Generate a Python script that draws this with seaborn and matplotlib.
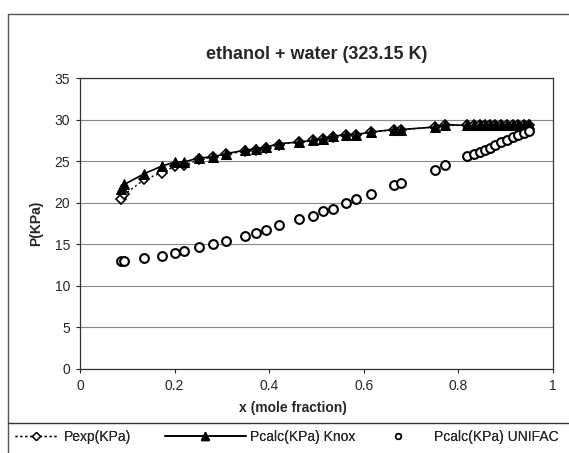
import numpy as np
import pandas as pd
import matplotlib
matplotlib.use("Agg")
import matplotlib.pyplot as plt
from matplotlib.lines import Line2D
import seaborn as sns

# mole fraction of ethanol
x_frac = [0.086, 0.094, 0.136, 0.173, 0.201, 0.220, 0.252, 0.281, 0.308, 0.348,
          0.372, 0.394, 0.420, 0.463, 0.492, 0.513, 0.535, 0.563, 0.584, 0.616,
          0.663, 0.679, 0.750, 0.771, 0.818, 0.832, 0.846, 0.856, 0.867, 0.877,
          0.891, 0.903, 0.916, 0.927, 0.939, 0.950]

p_exp = [20.4, 21.0, 22.8, 23.6, 24.4, 24.5, 25.2, 25.5, 25.8, 26.2,
         26.4, 26.6, 27.0, 27.3, 27.5, 27.7, 27.9, 28.1, 28.2, 28.5,
         28.8, 28.8, 29.1, 29.3, 29.3, 29.3, 29.3, 29.4, 29.4, 29.4,
         29.4, 29.4, 29.4, 29.4, 29.4, 29.4]

p_knox = [21.7, 22.2, 23.5, 24.4, 24.9, 24.9, 25.4, 25.5, 25.9, 26.3,
          26.5, 26.7, 27.1, 27.3, 27.5, 27.7, 28.0, 28.2, 28.2, 28.5,
          28.8, 28.8, 29.1, 29.4, 29.3, 29.3, 29.3, 29.4, 29.4, 29.4,
          29.4, 29.4, 29.4, 29.4, 29.4, 29.5]

p_unifac = [13.0, 13.0, 13.3, 13.6, 13.9, 14.2, 14.7, 15.0, 15.4, 16.0,
            16.4, 16.7, 17.3, 18.0, 18.4, 19.0, 19.3, 20.0, 20.4, 21.0,
            22.1, 22.4, 23.9, 24.5, 25.6, 25.9, 26.1, 26.3, 26.6, 26.9,
            27.3, 27.5, 27.9, 28.1, 28.4, 28.6]

df = pd.DataFrame({"x": x_frac, "exp": p_exp, "knox": p_knox, "unifac": p_unifac})

sns.set_style("white")
plt.rcParams['font.family'] = ['Liberation Sans', 'DejaVu Sans']

W, H = 569, 453
fig = plt.figure(figsize=(W / 100, H / 100), dpi=100)
ax = fig.add_axes([80 / W, 1 - 369 / H, 473 / W, 291 / H])

dotted = (0, (1.5, 2))

# 实验值（虚线+菱形）
sns.lineplot(data=df, x="x", y="exp", ax=ax, sort=False, color="black",
             linestyle=dotted, linewidth=1, marker="D", markersize=5,
             markerfacecolor="white", markeredgecolor="black", markeredgewidth=1.2)
# Knox 计算值
sns.lineplot(data=df, x="x", y="knox", ax=ax, sort=False, color="black",
             linewidth=1.2, marker="^", markersize=7, markerfacecolor="black",
             markeredgecolor="black")
# UNIFAC 计算值
sns.scatterplot(data=df, x="x", y="unifac", ax=ax, marker="o", s=40,
                facecolor="white", edgecolor="black", linewidth=1.5, zorder=3)

ax.set_xlim(0, 1)
ax.set_ylim(0, 35)
ax.set_xticks([0, 0.2, 0.4, 0.6, 0.8, 1])
ax.set_xticklabels(["0", "0.2", "0.4", "0.6", "0.8", "1"])
ax.set_yticks(range(0, 36, 5))
ax.yaxis.grid(True, color="#888888", linewidth=0.8)
ax.tick_params(axis="both", direction="out", length=3, width=0.8,
               labelsize=10, bottom=True, left=True, pad=4)
for s in ax.spines.values():
    s.set_color("#333333")
    s.set_linewidth(0.9)

ax.set_xlabel("x (mole fraction)", fontsize=10, fontweight="bold", labelpad=3)
ax.xaxis.set_label_coords(0.45, -0.11)
ax.set_ylabel("P(KPa)", fontsize=10, fontweight="bold", labelpad=8)
ax.set_title("ethanol + water (323.15 K)", fontsize=13, fontweight="bold", pad=14)

# 图表外框与图例分隔线
fig.add_artist(Line2D([8 / W, 8 / W], [0, 1 - 14 / H], color="#555555", lw=1))
fig.add_artist(Line2D([8 / W, 1], [1 - 14 / H, 1 - 14 / H], color="#555555", lw=1))
fig.add_artist(Line2D([8 / W, 1], [1 - 423 / H, 1 - 423 / H], color="#333333", lw=1))

# 图例：三项分别放置
h_exp = Line2D([], [], color="black", linestyle=dotted, lw=1, marker="D", markersize=4,
               markerfacecolor="white", markeredgecolor="black")
h_knox = Line2D([], [], color="black", lw=1.2, marker="^", markersize=6,
                markerfacecolor="black")
h_uni = Line2D([], [], color="none", marker="o", markersize=4, markerfacecolor="white",
               markeredgecolor="black", markeredgewidth=1.2)

leg_y = 1 - 437 / H
for h, lab, x0, hl, tp in [(h_exp, "Pexp(KPa)", 15, 3.0, 0.5),
                            (h_knox, "Pcalc(KPa) Knox", 165, 5.8, 0.35),
                            (h_uni, "Pcalc(KPa) UNIFAC", 388, 1.5, 1.8)]:
    lg = fig.legend([h], [lab], loc="center left", bbox_to_anchor=(x0 / W, leg_y),
                    frameon=False, fontsize=10, handlelength=hl, handletextpad=tp,
                    borderaxespad=0, borderpad=0)
    fig.add_artist(lg)

fig.savefig("out.png", dpi=100)
